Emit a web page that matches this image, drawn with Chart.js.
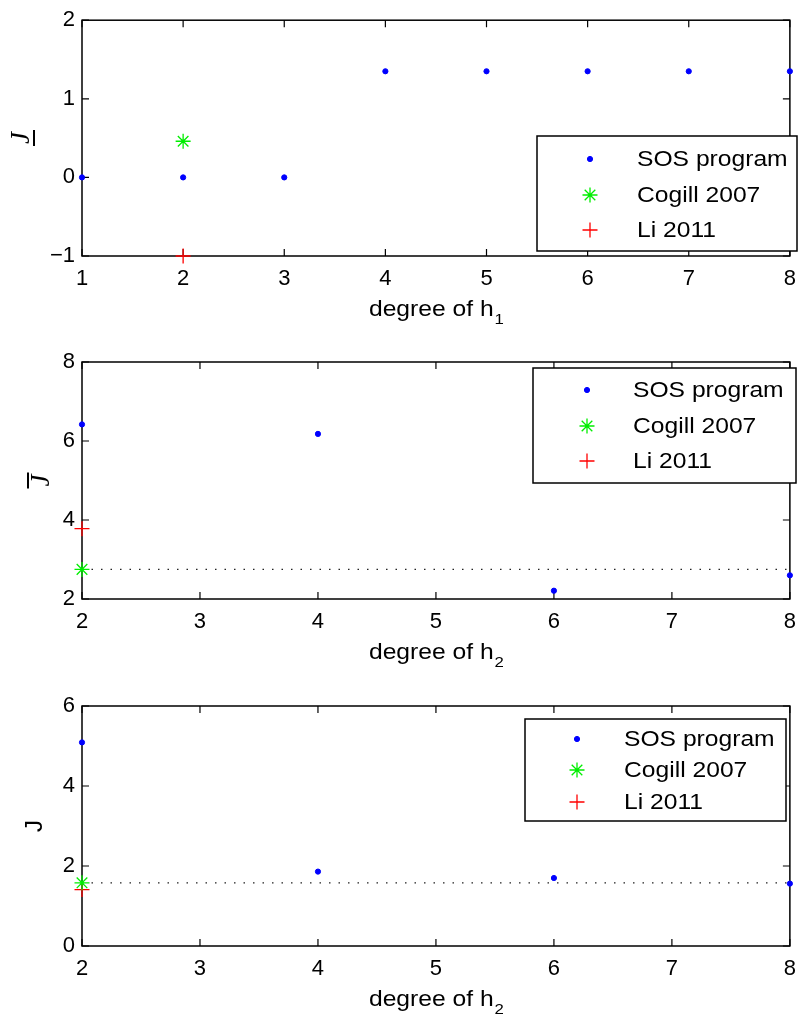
<!DOCTYPE html>
<html>
<head>
<meta charset="utf-8">
<script src="https://cdn.jsdelivr.net/npm/chart.js@4.4.0/dist/chart.umd.min.js"></script>
<style>
  body { margin: 0; background: #fff; width: 806px; height: 1019px; position: relative; overflow: hidden; }
  canvas { position: absolute; left: 0; }
</style>
</head>
<body>
<canvas id="c1" width="806" height="339" style="top:0px"></canvas>
<canvas id="c2" width="806" height="341" style="top:339px"></canvas>
<canvas id="c3" width="806" height="339" style="top:680px"></canvas>
<script>
// polynomial degrees swept
const degH1 = [1, 2, 3, 4, 5, 6, 7, 8];
const degH2 = [2, 4, 6, 8];
const refDeg = [2];

// lower bound (top panel)
const lowerSOS = [0, 0, 0, 1.35, 1.35, 1.35, 1.35, 1.35];
const lowerCogill = [0.46];
const lowerLi = [-1];

// upper bound (middle panel)
const upperSOS = [6.42, 6.18, 2.21, 2.60];
const upperCogill = [2.75];
const upperLi = [3.78];

// achieved cost (bottom panel)
const costSOS = [5.09, 1.86, 1.70, 1.56];
const costCogill = [1.58];
const costLi = [1.41];

const seriesNames = ['SOS program', 'Cogill 2007', 'Li 2011'];
const xTicks1 = [1, 2, 3, 4, 5, 6, 7, 8];
const xTicks2 = [2, 3, 4, 5, 6, 7, 8];
const yTicks1 = [-1, 0, 1, 2];
const yTicks2 = [2, 4, 6, 8];
const yTicks3 = [0, 2, 4, 6];

const FONT = '"Liberation Sans", Arial, Helvetica, sans-serif';
const WIDE = 1.12; // text is drawn a little wider than the font's own shapes
Chart.defaults.font.family = FONT;

const pts = (xs, ys) => xs.map((x, i) => ({ x: x, y: ys[i] }));

function wideText(ctx, text, x, y) {
  ctx.save();
  ctx.translate(x, y);
  ctx.scale(WIDE, 1);
  ctx.fillText(text, 0, 0);
  ctx.restore();
}

// box, inward ticks, axis titles and legend drawn like a matlab axes
const matlabFrame = {
  id: 'matlabFrame',
  beforeDatasetsDraw(chart, args, o) {
    const ctx = chart.ctx, a = chart.chartArea;
    const sx = chart.scales.x, sy = chart.scales.y;
    ctx.save();
    ctx.strokeStyle = '#000';
    ctx.lineWidth = 1.5;
    ctx.strokeRect(a.left, a.top, a.right - a.left, a.bottom - a.top);
    ctx.beginPath();
    sx.ticks.forEach(t => {
      const px = sx.getPixelForValue(t.value);
      ctx.moveTo(px, a.bottom); ctx.lineTo(px, a.bottom - 7);
      ctx.moveTo(px, a.top); ctx.lineTo(px, a.top + 7);
    });
    sy.ticks.forEach(t => {
      const py = sy.getPixelForValue(t.value);
      ctx.moveTo(a.left, py); ctx.lineTo(a.left + 7, py);
      ctx.moveTo(a.right, py); ctx.lineTo(a.right - 7, py);
    });
    ctx.lineWidth = 1.2;
    ctx.stroke();

    // x title with subscript
    ctx.fillStyle = '#000';
    ctx.textAlign = 'left';
    ctx.textBaseline = 'alphabetic';
    const main = 'degree of h';
    ctx.font = '22px ' + FONT;
    const w1 = ctx.measureText(main).width * WIDE;
    ctx.font = '15px ' + FONT;
    const w2 = ctx.measureText(o.sub).width * WIDE;
    const x0 = (a.left + a.right) / 2 - (w1 + w2) / 2;
    const by = a.bottom + 60;
    ctx.font = '22px ' + FONT;
    wideText(ctx, main, x0, by);
    ctx.font = '15px ' + FONT;
    wideText(ctx, o.sub, x0 + w1 + 1, by + 8);

    // y title, rotated
    const yt = o.yTitle;
    ctx.translate(yt.x, (a.top + a.bottom) / 2);
    ctx.rotate(-Math.PI / 2);
    ctx.textAlign = 'center';
    ctx.textBaseline = 'middle';
    if (yt.style === 'plain') {
      ctx.font = '24px ' + FONT;
      ctx.fillText('J', 0, 0);
    } else {
      ctx.font = 'italic 27px "Liberation Serif", "DejaVu Serif", serif';
      ctx.fillText('J', 0, 0);
      ctx.lineWidth = 2;
      ctx.beginPath();
      ctx.moveTo(-8, yt.bar);
      ctx.lineTo(8, yt.bar);
      ctx.stroke();
    }
    ctx.restore();
  },
  afterDraw(chart, args, o) {
    const ctx = chart.ctx, L = o.legend;
    ctx.save();
    ctx.fillStyle = '#fff';
    ctx.fillRect(L.x, L.y, L.w, L.h);
    ctx.strokeStyle = '#000';
    ctx.lineWidth = 1.5;
    ctx.strokeRect(L.x, L.y, L.w, L.h);
    chart.data.datasets.slice(0, 3).forEach((ds, i) => {
      ctx.strokeStyle = ds.borderColor;
      ctx.fillStyle = ds.backgroundColor;
      ctx.lineWidth = ds.borderWidth;
      Chart.helpers.drawPoint(ctx, {
        pointStyle: ds.pointStyle, radius: ds.pointRadius, rotation: 0, borderWidth: ds.borderWidth
      }, L.mx, L.rows[i]);
      ctx.fillStyle = '#000';
      ctx.font = '22px ' + FONT;
      ctx.textAlign = 'left';
      ctx.textBaseline = 'middle';
      wideText(ctx, ds.label, L.tx, L.rows[i] + 1);
    });
    ctx.restore();
  }
};
Chart.register(matlabFrame);

function makePlot(id, p) {
  const last = p.deg[p.deg.length - 1];
  const datasets = [
    { label: seriesNames[0], data: pts(p.deg, p.sos), pointStyle: 'circle', pointRadius: 2.6,
      backgroundColor: '#0000ff', borderColor: '#0000ff', borderWidth: 1, clip: false },
    { label: seriesNames[1], data: pts(refDeg, p.cogill), pointStyle: 'star', pointRadius: 7.5,
      backgroundColor: '#00ee00', borderColor: '#00ee00', borderWidth: 1.3, clip: false },
    { label: seriesNames[2], data: pts(refDeg, p.li), pointStyle: 'cross', pointRadius: 7.5,
      backgroundColor: '#ff0000', borderColor: '#ff0000', borderWidth: 1.3, clip: false }
  ];
  if (p.dotted) {
    datasets.push({
      type: 'line', label: 'ref', data: pts([refDeg[0], last], [p.cogill[0], p.cogill[0]]),
      showLine: true, pointRadius: 0, borderColor: '#222', borderWidth: 1.3, borderDash: [1.5, 8]
    });
  }
  const tickFont = { size: 22, family: FONT };
  return new Chart(document.getElementById(id), {
    type: 'scatter',
    data: { datasets: datasets },
    options: {
      responsive: false,
      animation: false,
      events: [],
      layout: { padding: { top: p.top, right: 9, left: 0, bottom: 0 } },
      plugins: {
        legend: { display: false },
        tooltip: { enabled: false },
        matlabFrame: { sub: p.sub, yTitle: p.yTitle, legend: p.legend }
      },
      scales: {
        x: {
          type: 'linear', min: p.xTicks[0], max: p.xTicks[p.xTicks.length - 1],
          afterBuildTicks: s => { s.ticks = p.xTicks.map(v => ({ value: v })); },
          afterFit: s => { s.height = p.xh; },
          ticks: { color: '#000', font: tickFont, padding: 10, maxRotation: 0, autoSkip: false },
          grid: { display: false, drawTicks: false },
          border: { display: false }
        },
        y: {
          type: 'linear', min: p.yTicks[0], max: p.yTicks[p.yTicks.length - 1],
          afterBuildTicks: s => { s.ticks = p.yTicks.map(v => ({ value: v })); },
          afterFit: s => { s.width = 82; },
          ticks: {
            color: '#000', font: tickFont, padding: 7,
            callback: v => v < 0 ? '\u2212' + Math.abs(v) : String(v)
          },
          grid: { display: false, drawTicks: false },
          border: { display: false }
        }
      }
    }
  });
}

makePlot('c1', {
  deg: degH1, sos: lowerSOS, cogill: lowerCogill, li: lowerLi, dotted: false,
  xTicks: xTicks1, yTicks: yTicks1, top: 19, xh: 83, sub: '1',
  yTitle: { x: 22, style: 'under', bar: 12 },
  legend: { x: 537, y: 136, w: 260, h: 115, mx: 590, tx: 637, rows: [159, 195, 230] }
});

makePlot('c2', {
  deg: degH2, sos: upperSOS, cogill: upperCogill, li: upperLi, dotted: true,
  xTicks: xTicks2, yTicks: yTicks2, top: 23, xh: 81, sub: '2',
  yTitle: { x: 42, style: 'over', bar: -14 },
  legend: { x: 533, y: 29, w: 263, h: 115, mx: 587, tx: 633, rows: [51, 87, 122] }
});

makePlot('c3', {
  deg: degH2, sos: costSOS, cogill: costCogill, li: costLi, dotted: true,
  xTicks: xTicks2, yTicks: yTicks3, top: 26, xh: 73, sub: '2',
  yTitle: { x: 35, style: 'plain' },
  legend: { x: 525, y: 39, w: 261, h: 102, mx: 577, tx: 624, rows: [59, 90, 122] }
});
</script>
</body>
</html>
